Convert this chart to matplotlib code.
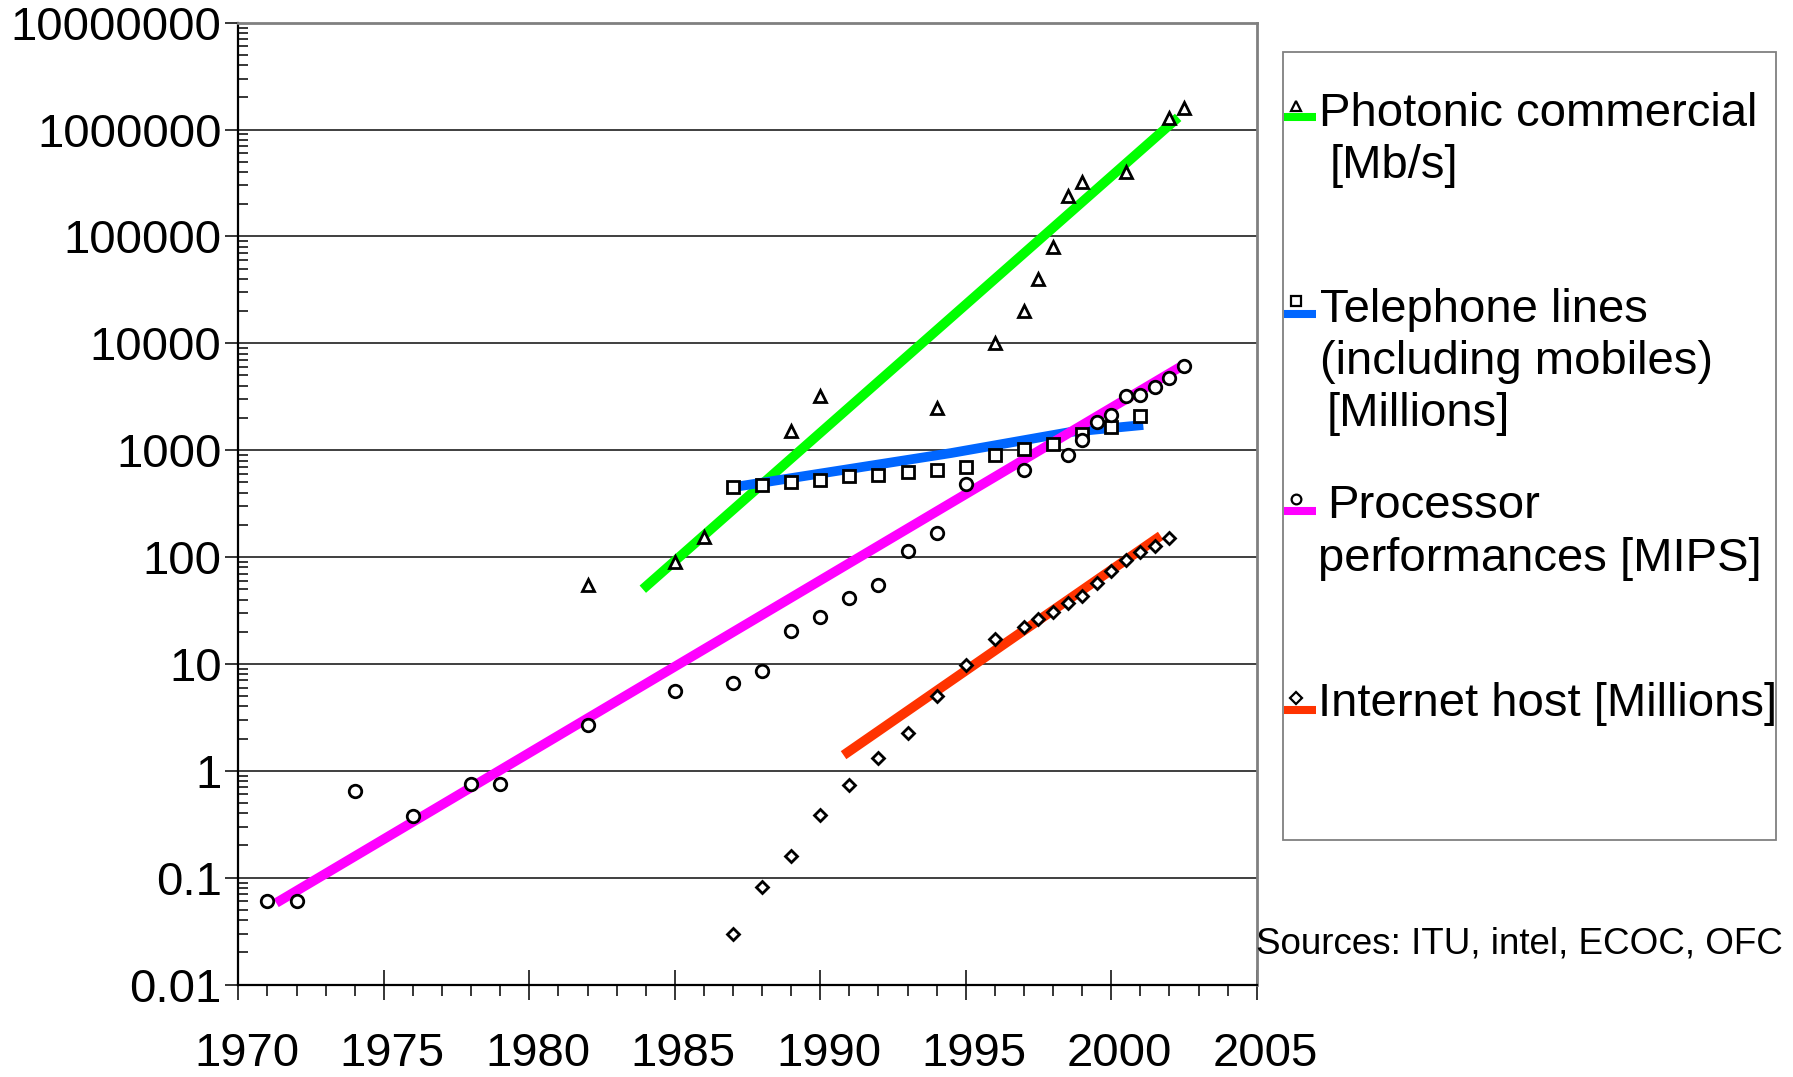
import numpy as np
import matplotlib
matplotlib.use('Agg')
import matplotlib.pyplot as plt
from matplotlib.lines import Line2D
from matplotlib.patches import Rectangle
from matplotlib.ticker import LogLocator, MultipleLocator, NullFormatter
from matplotlib.transforms import ScaledTranslation

plt.rcParams['font.family'] = ['Liberation Sans', 'DejaVu Sans']

# DATOS

# Photonic commercial [Mb/s]
photo_years = [1982, 1985, 1986, 1989, 1990, 1994, 1996, 1997, 1997.5, 1998, 1998.5, 1999, 2000.5, 2002, 2002.5]
photo_vals = [55, 90, 155, 1500, 3200, 2500, 10000, 20000, 40000, 80000, 240000, 320000, 400000, 1280000, 1600000]
photo_fit_years = [1983.9, 2002.3]
photo_fit_vals = [50, 1300000]

# Telephone lines [Millions]
phone_years = [1987, 1988, 1989, 1990, 1991, 1992, 1993, 1994, 1995, 1996, 1997, 1998, 1999, 2000, 2001]
phone_vals = [452, 477, 500, 526, 573, 584, 620, 656, 702, 893, 1020, 1135, 1416, 1650, 2080]
phone_fit_years = [1987, 1994.5, 1998.6, 2001.1]
phone_fit_vals = [450, 940, 1480, 1720]

# Processor performances [MIPS]
cpu_years = [1971, 1972, 1974, 1976, 1978, 1979, 1982, 1985, 1987, 1988, 1989, 1990, 1991, 1992,
             1993, 1994, 1995, 1997, 1998.5, 1999, 1999.5, 2000, 2000.5, 2001, 2001.5, 2002, 2002.5]
cpu_vals = [0.06, 0.06, 0.64, 0.375, 0.76, 0.76, 2.7, 5.6, 6.6, 8.6, 20.3, 27.4, 41.4, 54.7,
            114, 169, 478, 656, 910, 1240, 1820, 2140, 3245, 3300, 3930, 4720, 6170]
cpu_fit_years = [1971.3, 2002.5]
cpu_fit_vals = [0.058, 6300]

# Internet host [Millions]
net_years = [1987, 1988, 1989, 1990, 1991, 1992, 1993, 1994, 1995, 1996, 1997, 1997.5, 1998,
             1998.5, 1999, 1999.5, 2000, 2000.5, 2001, 2001.5, 2002]
net_vals = [0.03, 0.081, 0.16, 0.385, 0.74, 1.31, 2.24, 4.97, 9.7, 17.1, 22.1, 26.3, 30.4,
            37.2, 43.4, 56.9, 73.8, 93.8, 112, 128, 150]
net_fit_years = [1990.8, 2001.7]
net_fit_vals = [1.4, 158]

x_ticks = [1970, 1975, 1980, 1985, 1990, 1995, 2000, 2005]
y_ticks = [0.01, 0.1, 1, 10, 100, 1000, 10000, 100000, 1000000, 10000000]
y_tick_labels = ['0.01', '0.1', '1', '10', '100', '1000', '10000', '100000', '1000000', '10000000']

legend_labels = [['Photonic commercial', '[Mb/s]'],
                 ['Telephone lines', '(including mobiles)', '[Millions]'],
                 ['Processor', 'performances [MIPS]'],
                 ['Internet host [Millions]']]
sources = 'Sources: ITU, intel, ECOC, OFC'

GREEN = '#00ff00'
BLUE = '#0066ff'
MAGENTA = '#ff00ff'
ORANGE = '#ff3300'

W, H = 1793, 1077
def fx(px):
    return px / W
def fy(py):
    return 1 - py / H

fig = plt.figure(figsize=(W / 100, H / 100), dpi=100)
ax = fig.add_axes([fx(238.4), fy(984.5), fx(1256.7) - fx(238.4), fy(22.7) - fy(984.5)])
ax.set_xlim(1970, 2005)
ax.set_yscale('log')
ax.set_ylim(0.01, 1e7)

# lineas de tendencia
fit_kw = dict(lw=7, solid_capstyle='butt', zorder=2)
ax.plot(photo_fit_years, photo_fit_vals, color=GREEN, **fit_kw)
ax.plot(phone_fit_years, phone_fit_vals, color=BLUE, solid_joinstyle='round', **fit_kw)
ax.plot(cpu_fit_years, cpu_fit_vals, color=MAGENTA, **fit_kw)
ax.plot(net_fit_years, net_fit_vals, color=ORANGE, **fit_kw)

# puntos
mk = dict(linestyle='none', mfc='white', mec='black', mew=2, zorder=4, clip_on=False)
ax.plot(photo_years, photo_vals, marker='^', ms=9, **mk)
ax.plot(phone_years, phone_vals, marker='s', ms=9, **mk)
ax.plot(cpu_years, cpu_vals, marker='o', ms=9, **mk)
ax.plot(net_years, net_vals, marker='D', ms=6.2, **mk)

# ejes
ax.set_yticks(y_ticks)
ax.set_yticklabels(y_tick_labels)
ax.yaxis.set_minor_locator(LogLocator(base=10, subs=np.arange(2, 10), numticks=20))
ax.yaxis.set_minor_formatter(NullFormatter())
ax.set_xticks(x_ticks)
ax.set_xticklabels([str(x) for x in x_ticks])
ax.xaxis.set_minor_locator(MultipleLocator(1))

ax.tick_params(axis='y', which='major', direction='out', length=9.6, width=1.1, pad=2.5, labelsize=34)
ax.tick_params(axis='y', which='minor', direction='in', length=7.4, width=1.1)
ax.tick_params(axis='x', which='major', direction='inout', length=21.6, width=1.1, pad=23.5, labelsize=34)
ax.tick_params(axis='x', which='minor', direction='out', length=7.7, width=1.1)

for lab in ax.get_xticklabels():
    lab.set_transform(lab.get_transform() + ScaledTranslation(6 / 72, 0, fig.dpi_scale_trans))

ax.grid(axis='y', which='major', color='#303030', lw=1.3)
ax.set_axisbelow(True)
ax.spines['left'].set_linewidth(1.6)
ax.spines['bottom'].set_linewidth(1.6)
ax.spines['right'].set_color('#808080')
ax.spines['right'].set_linewidth(2)
ax.spines['top'].set_color('#808080')
ax.spines['top'].set_linewidth(2)

# LEYENDA
fig.add_artist(Rectangle((fx(1283.3), fy(839.7)), fx(1776) - fx(1283.3), fy(51.5) - fy(839.7),
                         transform=fig.transFigure, fill=False, edgecolor='#808080', lw=1.3))

leg_colors = [GREEN, BLUE, MAGENTA, ORANGE]
leg_markers = [('^', 6.5), ('s', 7), ('o', 7), ('D', 6)]
leg_line_y = [116.7, 313.8, 510.7, 710]
leg_marker_y = [106.3, 301, 499, 697.7]
leg_text_pos = [[(1319, 126), (1330, 178)],
                [(1320, 322), (1320, 374), (1327, 426)],
                [(1327, 518), (1318, 571)],
                [(1318, 716)]]

for i in range(4):
    fig.add_artist(Line2D([fx(1284), fx(1316)], [fy(leg_line_y[i])] * 2, transform=fig.transFigure,
                          color=leg_colors[i], lw=5.8, solid_capstyle='butt'))
    m, s = leg_markers[i]
    fig.add_artist(Line2D([fx(1296)], [fy(leg_marker_y[i])], transform=fig.transFigure, marker=m, ms=s,
                          mfc='white', mec='black', mew=1.6, linestyle='none'))
    for txt, (px, py) in zip(legend_labels[i], leg_text_pos[i]):
        fig.text(fx(px), fy(py), txt, fontsize=34, va='baseline', ha='left')

fig.text(fx(1256), fy(953), sources, fontsize=26.5, va='baseline', ha='left')

plt.savefig('out.png', dpi=100)
